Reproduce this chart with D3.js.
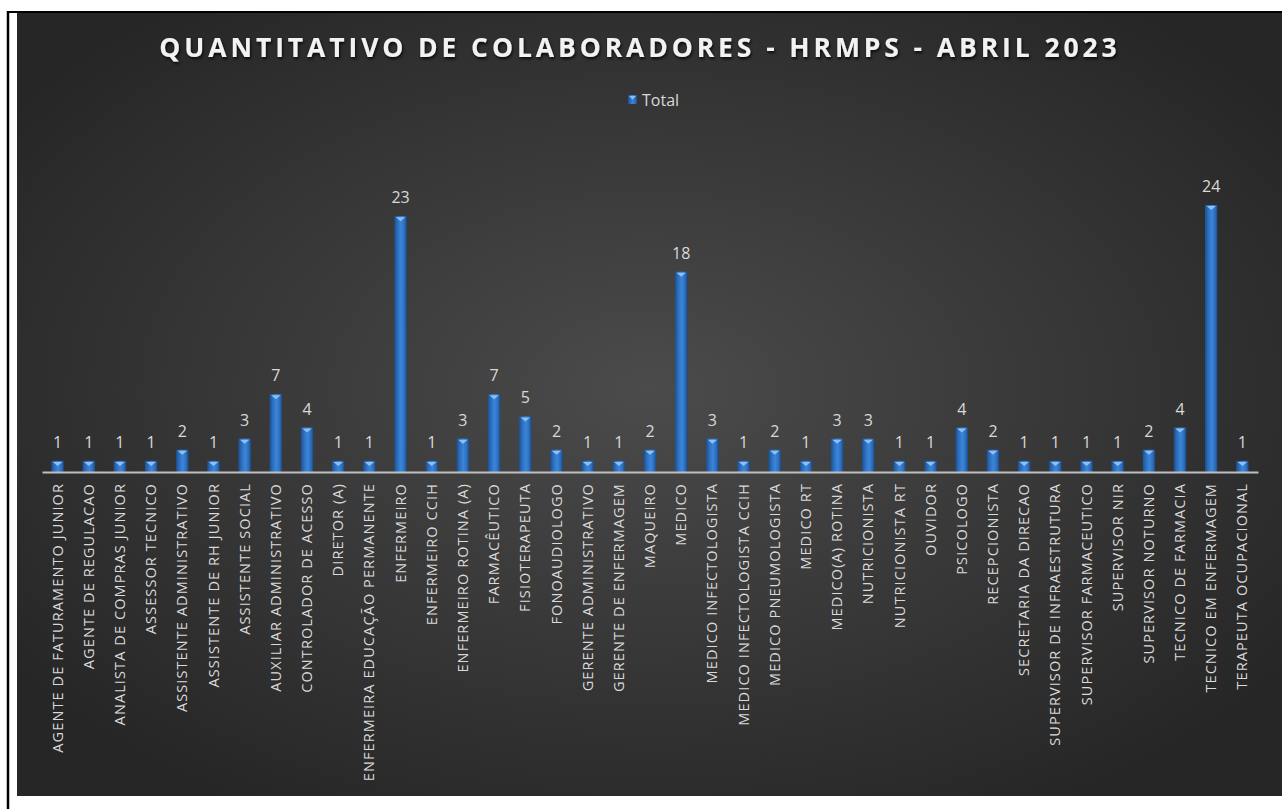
<!DOCTYPE html>
<html><head><meta charset="utf-8">
<script src="https://cdn.jsdelivr.net/npm/d3@7"></script>
<style>html,body{margin:0;padding:0;background:#fff;overflow:hidden}</style>
</head><body>
<svg id="chart" width="1282" height="809"></svg>
<script>
const title = "QUANTITATIVO DE COLABORADORES - HRMPS - ABRIL 2023";
const seriesName = "Total";
const categories = [
  "AGENTE DE FATURAMENTO JUNIOR","AGENTE DE REGULACAO","ANALISTA DE COMPRAS JUNIOR","ASSESSOR TECNICO",
  "ASSISTENTE ADMINISTRATIVO","ASSISTENTE DE RH JUNIOR","ASSISTENTE SOCIAL","AUXILIAR ADMINISTRATIVO",
  "CONTROLADOR DE ACESSO","DIRETOR (A)","ENFERMEIRA EDUCAÇÃO PERMANENTE","ENFERMEIRO","ENFERMEIRO CCIH",
  "ENFERMEIRO ROTINA (A)","FARMACÊUTICO","FISIOTERAPEUTA","FONOAUDIOLOGO","GERENTE ADMINISTRATIVO",
  "GERENTE DE ENFERMAGEM","MAQUEIRO","MEDICO","MEDICO INFECTOLOGISTA","MEDICO INFECTOLOGISTA CCIH",
  "MEDICO PNEUMOLOGISTA","MEDICO RT","MEDICO(A) ROTINA","NUTRICIONISTA","NUTRICIONISTA RT","OUVIDOR",
  "PSICOLOGO","RECEPCIONISTA","SECRETARIA DA DIRECAO","SUPERVISOR DE INFRAESTRUTURA","SUPERVISOR FARMACEUTICO",
  "SUPERVISOR NIR","SUPERVISOR NOTURNO","TECNICO DE FARMACIA","TECNICO EM ENFERMAGEM","TERAPEUTA OCUPACIONAL"
];
const values = [1,1,1,1,2,1,3,7,4,1,1,23,1,3,7,5,2,1,1,2,18,3,1,2,1,3,3,1,1,4,2,1,1,1,1,2,4,24,1];

const svg = d3.select("#chart");
const defs = svg.append("defs");

// frame lines
svg.append("line").attr("x1",8).attr("x2",8).attr("y1",11).attr("y2",809).attr("stroke","#000").attr("stroke-width",2.5);
svg.append("line").attr("x1",7).attr("x2",1282).attr("y1",12).attr("y2",12).attr("stroke","#000").attr("stroke-width",2);

// background gradient
const bg = defs.append("radialGradient").attr("id","bg").attr("cx","0.5").attr("cy","0.48").attr("r","0.62");
bg.append("stop").attr("offset","0").attr("stop-color","#4b4b4b");
bg.append("stop").attr("offset","1").attr("stop-color","#262626");
svg.append("rect").attr("x",17).attr("y",13).attr("width",1265).attr("height",783).attr("fill","url(#bg)");

// bar gradient
const bgr = defs.append("linearGradient").attr("id","bar").attr("x1","0").attr("x2","1").attr("y1","0").attr("y2","0");
[["0","#1d4f8f"],["0.3","#2f73c4"],["0.55","#3b85d8"],["0.8","#2e6fbe"],["1","#1a4a86"]].forEach(s=>
  bgr.append("stop").attr("offset",s[0]).attr("stop-color",s[1]));

// title shadow filter
const f = defs.append("filter").attr("id","sh").attr("x","-5%").attr("y","-30%").attr("width","110%").attr("height","160%");
f.append("feDropShadow").attr("dx",1).attr("dy",2).attr("stdDeviation",1.5).attr("flood-color","#000").attr("flood-opacity",0.8);

svg.append("text").attr("x",640).attr("y",57).attr("text-anchor","middle")
  .attr("font-family","Open Sans, Noto Sans, sans-serif").attr("font-weight","bold").attr("font-size",26.5)
  .attr("letter-spacing",3.9).attr("fill","#f2f2f2").attr("filter","url(#sh)").text(title);

// legend
const lg = svg.append("g").attr("transform","translate(628,95)");
lg.append("rect").attr("x",0).attr("y",0).attr("width",9).attr("height",9).attr("fill","url(#bar)");
lg.append("path").attr("d","M1,1 L8,1 L4.5,4.5 Z").attr("fill","#8cc0f5");
lg.append("text").attr("x",14).attr("y",10.5).attr("font-family","Open Sans, sans-serif").attr("font-size",16)
  .attr("fill","#d9d9d9").text(seriesName);

// scales
const baseY = 472;
const x = d3.scaleBand().domain(categories).range([42,1258]).paddingInner(0.6).paddingOuter(0.3);
const y = d3.scaleLinear().domain([0,24]).range([baseY,205]);

const g = svg.append("g");
const bars = g.selectAll("g.b").data(categories.map((c,i)=>({c,v:values[i]}))).join("g").attr("class","b");
bars.append("rect").attr("x",d=>x(d.c)).attr("y",d=>y(d.v)).attr("width",x.bandwidth())
  .attr("height",d=>baseY-y(d.v)).attr("fill","url(#bar)");
bars.append("path").attr("d",d=>{
  const x0=x(d.c), w=x.bandwidth(), t=y(d.v);
  return `M${x0+1.5},${t+1} L${x0+w-1.5},${t+1} L${x0+w/2},${t+5} Z`;
}).attr("fill","#8cc0f5");
bars.append("text").attr("x",d=>x(d.c)+x.bandwidth()/2).attr("y",d=>y(d.v)-13)
  .attr("text-anchor","middle").attr("font-family","Open Sans, sans-serif").attr("font-size",16)
  .attr("fill","#d9d9d9").text(d=>d.v);

// axis
const ax = svg.append("g").attr("transform",`translate(0,${baseY})`)
  .call(d3.axisBottom(x).tickSize(0).tickPadding(0));
ax.select(".domain").attr("stroke","#bfbfbf").attr("stroke-width",2);
ax.selectAll(".tick text").attr("transform","rotate(-90)").attr("text-anchor","end")
  .attr("x",-11).attr("y",0).attr("dy","0.35em")
  .attr("font-family","Open Sans, sans-serif").attr("font-size",14.5).attr("letter-spacing",1.1).attr("fill","#d9d9d9");
</script>
</body></html>
